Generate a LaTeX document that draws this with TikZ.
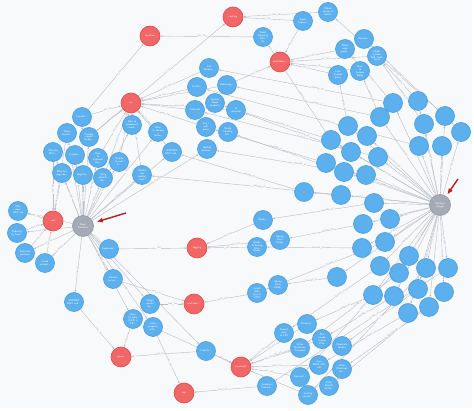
\documentclass[tikz,border=0pt]{standalone}
\usepackage{tikz}
\usetikzlibrary{arrows.meta,backgrounds}
\definecolor{bgcol}{HTML}{F8F9FB}
\definecolor{qblue}{HTML}{5DB0EE}
\definecolor{qborder}{HTML}{4A9CD9}
\definecolor{tagred}{HTML}{F16667}
\definecolor{tagborder}{HTML}{DC4A4C}
\definecolor{usergray}{HTML}{A5ABB6}
\definecolor{userborder}{HTML}{8F96A3}
\definecolor{relgray}{HTML}{B9BCC1}
\definecolor{labgray}{HTML}{8A8E95}
\definecolor{ptrred}{HTML}{B41E1E}
\tikzset{
mynode/.style={
  circle,
  inner sep=0pt,
  minimum size=19pt,
  line width=0.6pt,
  text=white,
  align=center,
  font=\sffamily\fontsize{2.6}{2.9}\selectfont
  },
myq/.style={mynode, draw=qborder, fill=qblue},
mytag/.style={mynode, minimum size=20pt, draw=tagborder, fill=tagred},
myuser/.style={mynode, minimum size=21pt, draw=userborder, fill=usergray},
myrel/.style={draw=relgray, line width=0.4pt, -{Latex[length=2.2pt,width=1.8pt]}},
mylab/.style={
  sloped,
  fill=bgcol,
  inner sep=0.3pt,
  text=labgray,
  font=\sffamily\fontsize{1.9}{2.1}\selectfont
  },
mypointer/.style={draw=ptrred, line width=1.4pt, -{Latex[length=6pt,width=5pt]}}
}
\begin{document}
\begin{tikzpicture}[x=1pt,y=-1pt]
  \useasboundingbox (0,0) rectangle (474,411);
  % tags
  \node[mytag] (loc) at (150,36) {location};
  \node[mytag] (cach) at (233,17) {caching};
  \node[mytag] (multi) at (280,62) {multithrea...};
  \node[mytag] (cs) at (131,103) {c\#};
  \node[mytag] (net) at (53,221) {.net};
  \node[mytag] (logg) at (197,248) {logging};
  \node[mytag] (unit) at (194,304) {unit-testi...};
  \node[mytag] (jq) at (121,357) {jquery};
  \node[mytag] (asp) at (184,393) {asp};
  \node[mytag] (js) at (241,367) {javascript};
  % users
  \node[myuser] (darin) at (83,226) {Darin\\Dimitrov};
  \node[myuser] (hunger) at (440,205) {Michael\\Hunger};
  % questions, left
  \node[myq] (q1) at (82,117) {Content...};
  \node[myq] (q2) at (67,133) {Does\\Localiz...};
  \node[myq] (q3) at (89,137) {Custom\\model\\binder...};
  \node[myq] (q4) at (132,125) {How to\\implement\\a bulk...};
  \node[myq] (q5) at (158,132) {How\\to choose\\a\\factory};
  \node[myq] (q6) at (53,152) {Why do\\MVC...};
  \node[myq] (q7) at (75,155) {Injectin...};
  \node[myq] (q8) at (98,158) {How\\to\\intercept\\the...};
  \node[myq] (q9) at (119,162) {Unable\\to cast\\T...};
  \node[myq] (q10) at (62,173) {Effective\\upgrade...};
  \node[myq] (q11) at (83,175) {Register...};
  \node[myq] (q12) at (103,178) {Using\\objects\\the...};
  \node[myq] (q13) at (142,175) {Would\\lazy\\loading\\work};
  \node[myq] (q14) at (172,152) {ASP.NET\\MVC and...};
  \node[myq] (q15) at (207,149) {Update\\relation...};
  \node[myq] (q16) at (209,68) {Cat\\Generic...};
  \node[myq] (q17) at (197,87) {JavaSc...};
  \node[myq] (q18) at (227,85) {Returning...};
  \node[myq] (q19) at (215,103) {Update\\Node\\property};
  \node[myq] (q20) at (195,110) {Lifecycle};
  \node[myq] (q21) at (236,110) {at\\recursion};
  \node[myq] (q22) at (206,127) {Can I\\split\\query};
  \node[myq] (q23) at (228,132) {Really\\Loading\\GC...};
  \node[myq] (q24) at (18,211) {Why\\does\\.NET use\\...};
  \node[myq] (q25) at (17,233) {Ordering\\by Sum...};
  \node[myq] (q26) at (25,253) {Simulate\\position};
  \node[myq] (q27) at (45,263) {Could\\extend...};
  \node[myq] (q28) at (109,249) {Implemen...};
  \node[myq] (q29) at (113,279) {Unable\\to run...};
  \node[myq] (q30) at (74,302) {ASP.NET\\MVC and...};
  \node[myq] (q31) at (150,304) {Weigh\\results\\for...};
  \node[myq] (q32) at (133,319) {How\\to store\\JSON in\\DB...};
  \node[myq] (q33) at (153,327) {Index\\property\\with...};
  \node[myq] (q34) at (206,351) {Cross-D...};
  % questions, top right
  \node[myq] (t1) at (303,21) {Basic\\Cypher...};
  \node[myq] (t2) at (328,12) {Which\\option is\\better};
  \node[myq] (t3) at (263,37) {Worst\\Querying\\Data\\for};
  \node[myq] (t4) at (364,39) {Remove...};
  \node[myq] (t5) at (345,49) {Most\\used\\graph...};
  \node[myq] (t6) at (377,56) {Neo4j\\Cypher:\\SQL fetch\\by id};
  \node[myq] (t7) at (338,75) {Lists\\Cypher\\query};
  \node[myq] (t8) at (360,71) {How\\to\\Lucene\\Node};
  % questions, middle and bottom
  \node[myq] (m1) at (263,220) {Neo4j...};
  \node[myq] (m2) at (280,240) {Spring\\Data\\Neo4j};
  \node[myq] (m3) at (257,247) {Neo4j\\\& Spring\\Data\\Neo4j};
  \node[myq] (b1) at (257,293) {Graph\\data\\sync in\\PCM};
  \node[myq] (b2) at (278,285) {Spring\\Data\\Neo4j};
  \node[myq] (b3) at (307,324) {Personal...};
  \node[myq] (b4) at (284,333) {Export\\data\\to CSV};
  \node[myq] (b5) at (322,339) {N:1\\Loads\\Cypher\\Plan};
  \node[myq] (b6) at (300,348) {Filter\\Relations\\Traversal};
  \node[myq] (b7) at (342,346) {Duplicate\\Nodes};
  \node[myq] (b8) at (319,365) {Java\\REST API\\call};
  \node[myq] (b9) at (342,369) {Filter\\Relations\\for...};
  \node[myq] (b10) at (300,377) {Connecti...};
  \node[myq] (b11) at (267,386) {Graphical\\Visualiz...};
  \node[myq] (b12) at (329,386) {Filter\\Results\\of the...};
  \node[myq] (b13) at (308,395) {Getting\\results...};
  % answers
  \foreach \n/\x/\y in {a1/393/103, a2/418/101, a3/445/116, a4/380/117, a5/424/124,
      a6/461/132, a7/348/126, a8/367/136, a9/331/140, a10/419/146, a11/442/146,
      a12/351/152, a13/378/157, a14/326/163, a15/344/172, a16/366/175, a17/304/192,
      a18/341/195, a19/374/203, a20/390/219, a21/363/224, a22/385/242, a23/362/248,
      a24/409/256, a25/380/266, a26/399/273, a27/426/268, a28/448/268, a29/337/277,
      a30/373/295, a31/394/296, a32/418/289, a33/444/292, a34/408/313, a35/429/307}
    \node[myq] (\n) at (\x,\y) {};
  \begin{scope}[on background layer]
    \fill[white] (0,0) rectangle (474,411);
    \fill[bgcol] (0,0) rectangle (472,408);
    % posted
    \foreach \q in {q1,q2,q3,q4,q5,q6,q7,q8,q9,q10,q11,q12,q13,q14,q15,
        q24,q25,q26,q27,q28,q29,q30,q31,q32,q33,q34}
      \draw[myrel] (darin) -- node[mylab, pos=.62] {POSTED} (\q);
    \foreach \a in {a1,a2,a3,a4,a5,a6,a7,a8,a9,a10,a11,a12,a13,a14,a15,a16,a17,a18,
        a19,a20,a21,a22,a23,a24,a25,a26,a27,a28,a29,a30,a31,a32,a33,a34,a35}
      \draw[myrel] (hunger) -- node[mylab, pos=.6] {POSTED} (\a);
    % tags
    \foreach \q/\t in {q1/cs, q3/cs, q4/cs, q5/cs, q8/cs, q9/cs, q12/cs, q13/cs,
        q14/cs, q16/cs, q17/cs, q18/cs, q20/cs, q21/cs, q22/cs,
        q2/net, q6/net, q10/net, q24/net, q25/net, q26/net, q27/net,
        q1/loc, t3/loc, t1/cach, t2/cach, q3/cach,
        t1/multi, t5/multi, t6/multi, t7/multi, t8/multi, q18/multi,
        q28/logg, m1/logg, m2/logg, m3/logg,
        q29/unit, q31/unit, b1/unit,
        q30/jq, q32/jq, q34/jq,
        q34/js, q33/js, b3/js, b4/js, b5/js, b6/js, b8/js, b10/js, b13/js,
        q33/asp, b11/asp}
      \draw[myrel] (\q) -- node[mylab, pos=.55] {HAS\_TAG} (\t);
    % answers
    \foreach \a/\q in {a3/t2, a6/t4, a5/t6, a2/t6, a1/t5, a4/t8, a7/t7, a9/t3,
        a1/q16, a4/q18, a9/q19, a12/q21, a14/q22, a15/q23, a16/q15, a10/q17,
        a13/q20, a17/q14, a18/q13, a19/m1, a21/m2, a23/m3, a22/b1, a29/b2,
        a30/b3, a25/b4, a31/b5, a26/b6, a32/b7, a34/b8, a35/b9, a24/b10,
        a33/b12, a27/b13, a28/b11}
      \draw[myrel] (\a) -- node[mylab, pos=.4] {ANSWER\_OF} (\q);
  \end{scope}
  % pointers
  \coordinate (dptr) at (126,213);
  \coordinate (hptr) at (458,179);
  \draw[mypointer, shorten >=3.5pt] (dptr) -- (darin);
  \draw[mypointer, shorten >=2pt] (hptr) -- (hunger);
\end{tikzpicture}
\end{document}
